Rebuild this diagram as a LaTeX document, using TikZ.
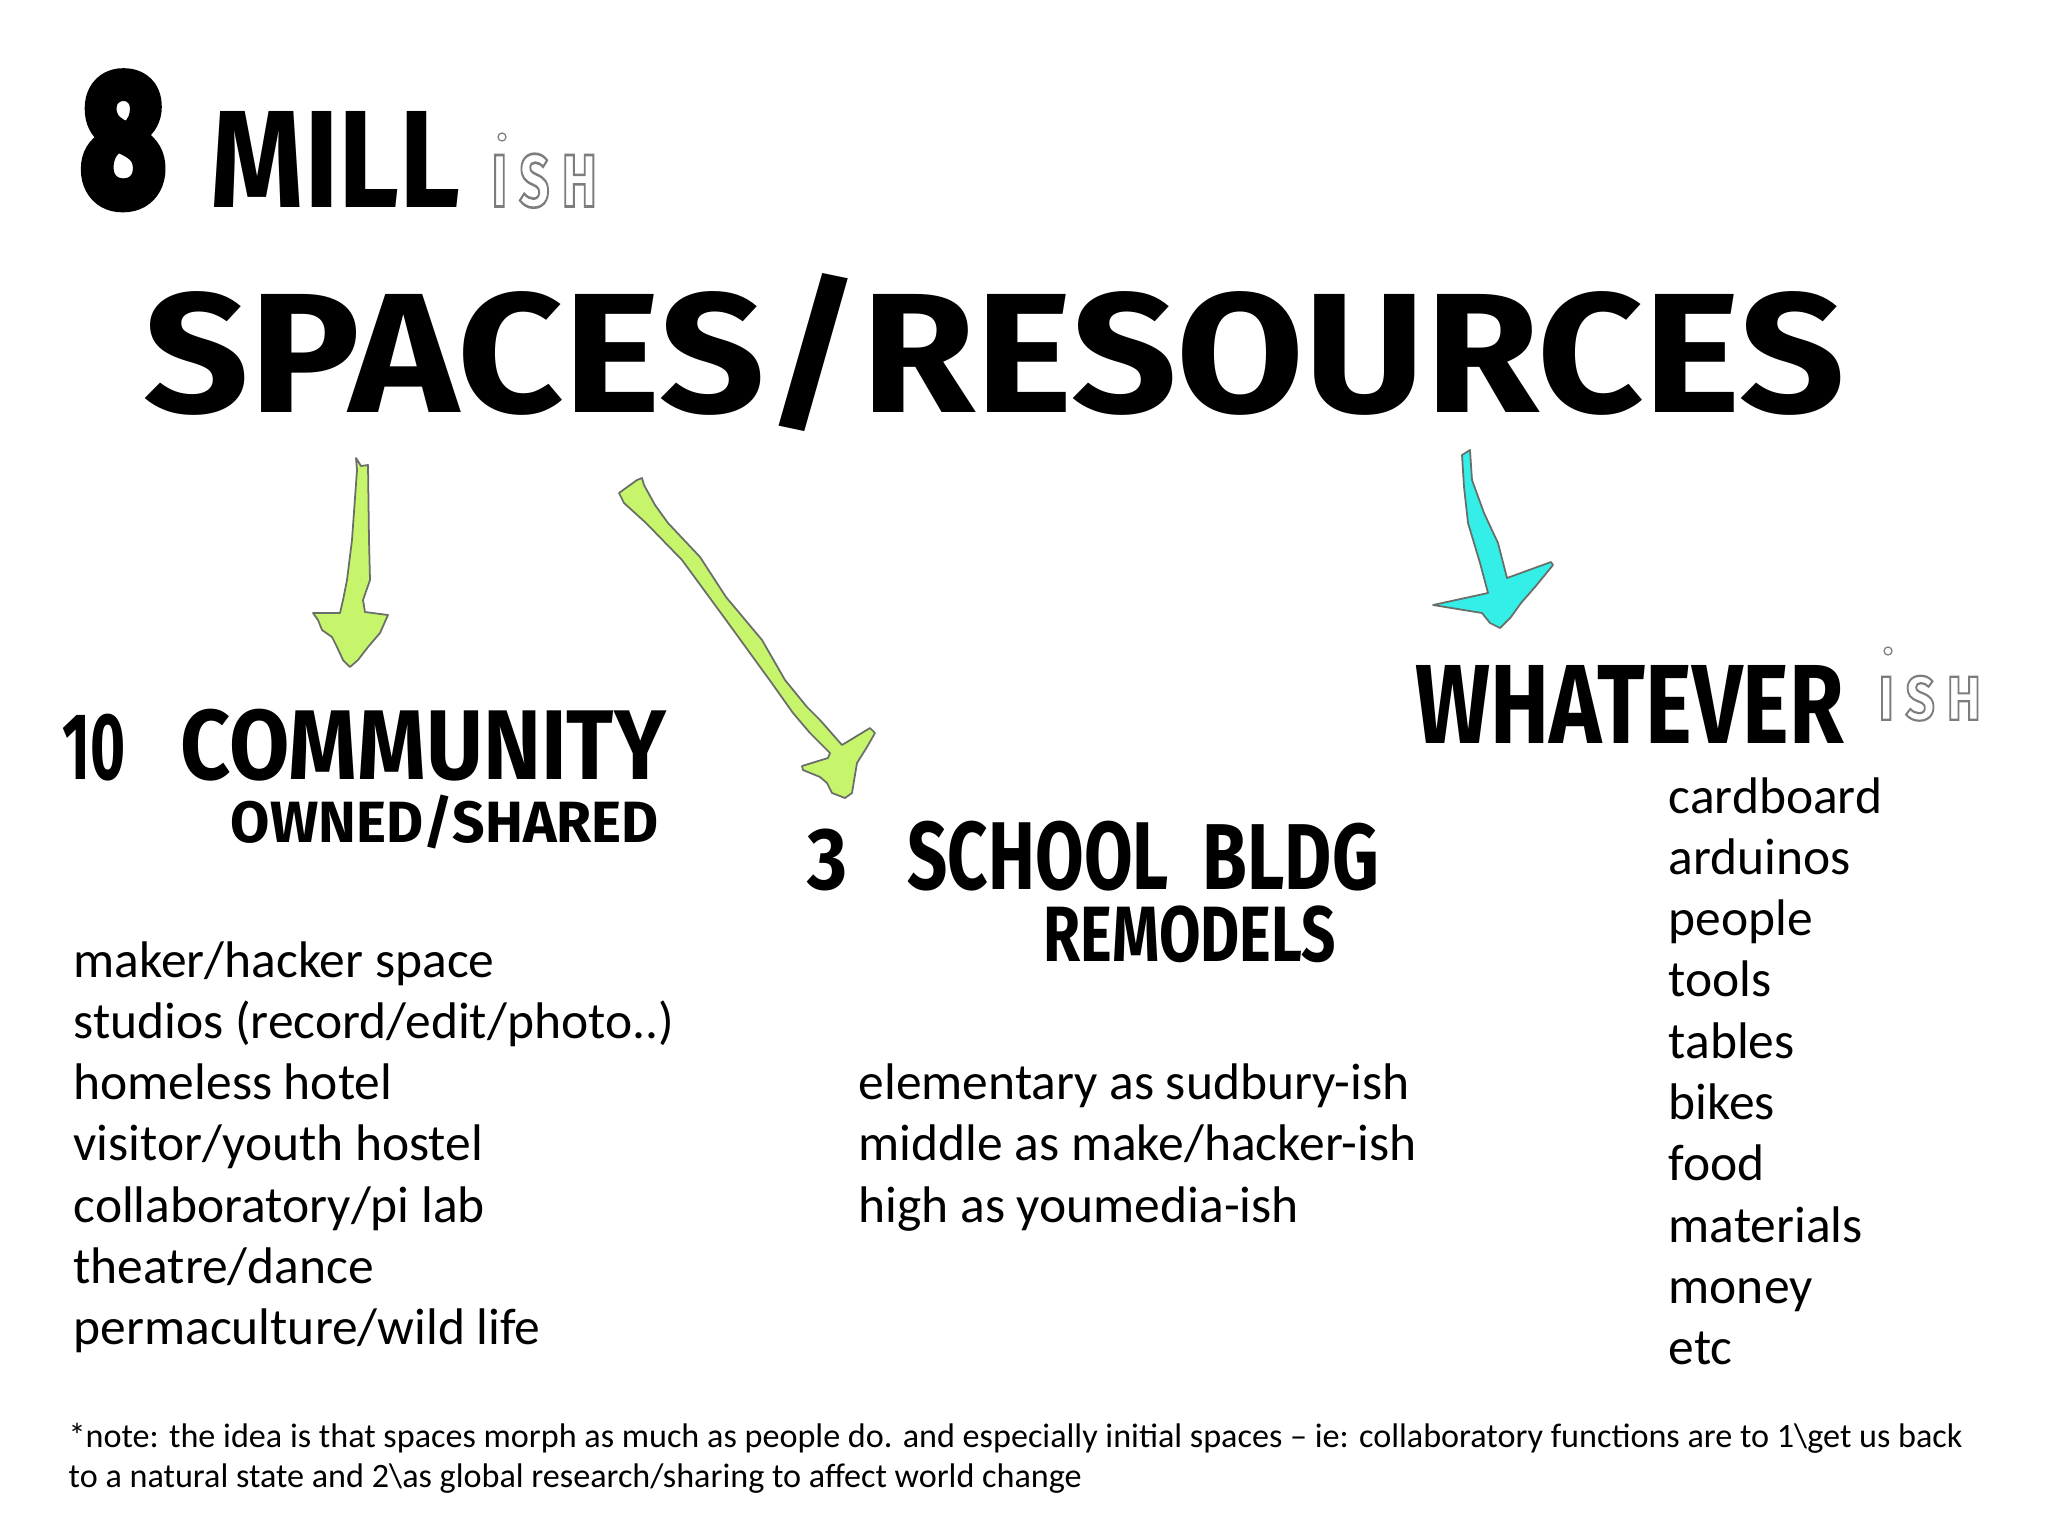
\documentclass[tikz,border=0pt]{standalone}
\usepackage{fontspec}
\setmainfont{Carlito}
\newfontfamily\handfont{Fira Sans}
\usepackage{graphicx}
\definecolor{arrgreen}{RGB}{198,245,108}
\definecolor{arrcyan}{RGB}{52,238,232}
\definecolor{arredge}{RGB}{105,110,105}
\definecolor{inkgray}{RGB}{125,125,125}
\newcommand\handfit[3]{\resizebox*{#1cm}{#2cm}{\handfont\bfseries #3}}
\newcommand\outl[1]{\special{pdf:literal direct 1 Tr 0.35 w}#1\special{pdf:literal direct 0 Tr}}
\newcommand\heavy[1]{\special{pdf:literal direct 2 Tr 0.7 w 1 j}#1\special{pdf:literal direct 0 Tr}}
\tikzset{
  hand/.style={inner sep=0pt, anchor=north west, text=black},
  outlined/.style={inner sep=0pt, anchor=north west, text=inkgray},
  idot/.style={draw=inkgray, line width=0.35pt},
  greenarrow/.style={fill=arrgreen, draw=arredge, line width=0.5pt, line join=round},
  cyanarrow/.style={fill=arrcyan, draw=arredge, line width=0.5pt, line join=round},
  bodytext/.style={inner sep=0pt, anchor=base west, font=\fontsize{14.64}{17.5}\selectfont},
  notetext/.style={inner sep=0pt, anchor=base west, font=\fontsize{9.71}{11.7}\selectfont}
}
\begin{document}
\begin{tikzpicture}[x=0.01cm,y=-0.01cm]
\useasboundingbox (0,0) rectangle (2048,1536);
\fill[white] (0,0) rectangle (2048,1536);

% headline
\node[hand] (eight) at (81,74) {\handfit{0.83}{1.31}{\heavy{8}}};
\node[hand] (mill) at (210,111) {\handfit{2.50}{0.96}{MILL}};
\node[outlined] (ish1) at (491,153) {\handfit{1.05}{0.54}{\outl{I S H}}};
\draw[idot] (502,137) circle[radius=0.04cm];
\node[hand] (spaces) at (143,273) {\handfit{17.0}{1.58}{SPACES/RESOURCES}};

% arrows
\draw[greenarrow] (356,458) -- (361,466) -- (368,465) -- (369,540) -- (370,580) -- (363,600) -- (365,612) -- (388,615) -- (380,633) -- (368,647) -- (358,660) -- (350,667) -- (343,660) -- (337,647) -- (332,637) -- (322,630) -- (318,620) -- (313,613) -- (340,613) -- (343,600) -- (347,580) -- (352,540) -- (357,470) -- cycle;
\draw[greenarrow] (619,493) -- (637,480) -- (642,478) -- (644,485) -- (655,505) -- (668,523) -- (700,557) -- (726,597) -- (762,640) -- (785,680) -- (807,707) -- (820,720) -- (842,745) -- (870,728) -- (875,733) -- (867,747) -- (857,763) -- (852,793) -- (845,798) -- (832,793) -- (827,783) -- (820,777) -- (803,770) -- (802,766) -- (828,758) -- (830,753) -- (810,733) -- (793,713) -- (771,682) -- (726,620) -- (682,560) -- (646,523) -- (624,503) -- cycle;
\draw[cyanarrow] (1462,455) -- (1470,450) -- (1472,480) -- (1484,513) -- (1498,543) -- (1507,578) -- (1551,562) -- (1553,565) -- (1535,587) -- (1521,603) -- (1511,617) -- (1500,628) -- (1490,623) -- (1482,613) -- (1433,605) -- (1488,593) -- (1480,563) -- (1468,523) -- (1464,487) -- cycle;

% column headings
\node[hand] (ten) at (62,713) {\handfit{0.63}{0.67}{10}};
\node[hand] (comm) at (180,708) {\handfit{4.85}{0.72}{COMMUNITY}};
\node[hand] (owned) at (230,794) {\handfit{4.28}{0.54}{OWNED/SHARED}};
\node[hand] (three) at (807,828) {\handfit{0.40}{0.62}{3}};
\node[hand] (school) at (907,820) {\handfit{2.61}{0.70}{SCHOOL}};
\node[hand] (bldg) at (1202,822) {\handfit{1.76}{0.68}{BLDG}};
\node[hand] (remod) at (1043,905) {\handfit{2.92}{0.57}{REMODELS}};
\node[hand] (what) at (1415,665) {\handfit{4.28}{0.78}{WHATEVER}};
\node[outlined] (ish2) at (1878,675) {\handfit{1.02}{0.45}{\outl{I S H}}};
\draw[idot] (1888,651) circle[radius=0.04cm];

% list 1
\node[bodytext] (a1) at (73,977) {maker/hacker space};
\node[bodytext] (a2) at (73,1038.3) {studios (record/edit/photo..)};
\node[bodytext] (a3) at (73,1099.6) {homeless hotel};
\node[bodytext] (a4) at (73,1160.9) {visitor/youth hostel};
\node[bodytext] (a5) at (73,1222.2) {collaboratory/pi lab};
\node[bodytext] (a6) at (73,1283.5) {theatre/dance};
\node[bodytext] (a7) at (73,1344.8) {permaculture/wild life};

% list 2
\node[bodytext] (b1) at (858,1099.6) {elementary as sudbury-ish};
\node[bodytext] (b2) at (858,1160.9) {middle as make/hacker-ish};
\node[bodytext] (b3) at (858,1222.2) {high as youmedia-ish};

% list 3
\node[bodytext] (c1) at (1668,813) {cardboard};
\node[bodytext] (c2) at (1668,874.3) {arduinos};
\node[bodytext] (c3) at (1668,935.6) {people};
\node[bodytext] (c4) at (1668,996.9) {tools};
\node[bodytext] (c5) at (1668,1058.2) {tables};
\node[bodytext] (c6) at (1668,1119.5) {bikes};
\node[bodytext] (c7) at (1668,1180.8) {food};
\node[bodytext] (c8) at (1668,1242.1) {materials};
\node[bodytext] (c9) at (1668,1303.4) {money};
\node[bodytext] (c10) at (1668,1364.7) {etc};

% footnote
\node[notetext] (n1) at (68,1447) {*note: the idea is that spaces morph as much as people do. and especially initial spaces -- ie: collaboratory functions are to 1\textbackslash get us back};
\node[notetext] (n2) at (68,1487) {to a natural state and 2\textbackslash as global research/sharing to affect world change};
\end{tikzpicture}
\end{document}
